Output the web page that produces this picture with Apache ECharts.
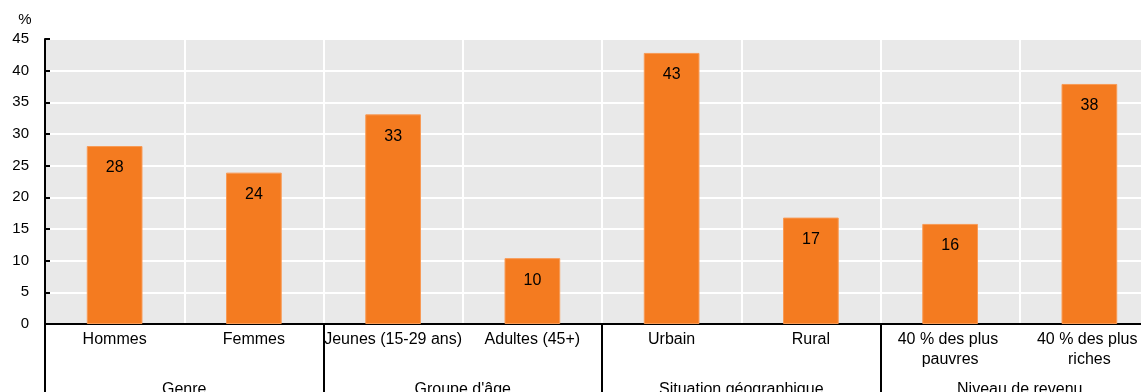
<!DOCTYPE html>
<html>
<head>
<meta charset="utf-8">
<script src="https://cdn.jsdelivr.net/npm/echarts@6/dist/echarts.min.js"></script>
<style>
  html, body { margin: 0; padding: 0; background: #fff; }
  #chart { width: 1141px; height: 392px; }
</style>
</head>
<body>
<div id="chart"></div>
<script>
// catégories, groupes et valeurs (en %)
var categories = ['Hommes', 'Femmes', 'Jeunes (15-29 ans)', 'Adultes (45+)', 'Urbain', 'Rural', '40 % des plus pauvres', '40 % des plus riches'];
var groups = ['Genre', "Groupe d'âge", 'Situation géographique', 'Niveau de revenu'];
var values = [28.1, 23.9, 33.1, 10.4, 42.8, 16.8, 15.8, 37.9];
var yTicks = [0, 5, 10, 15, 20, 25, 30, 35, 40, 45];

var font = "'Liberation Sans', Arial, sans-serif";

var chart = echarts.init(document.getElementById('chart'));
chart.setOption({
	animation: false,
	grid: {
		left: 45,
		top: 39,
		bottom: 68,
		width: 1114,
		outerBoundsMode: 'none',
		containLabel: false,
		show: true,
		backgroundColor: '#e9e9e9',
		borderWidth: 0
	},
	xAxis: [
		{
			type: 'category',
			data: categories,
			axisLine: { lineStyle: { color: '#000', width: 2 } },
			axisTick: { show: false },
			splitLine: { show: true, lineStyle: { color: '#fff', width: 2 } },
			axisLabel: {
				color: '#000',
				fontFamily: font,
				fontSize: 16,
				lineHeight: 20,
				margin: 6,
				interval: 0,
				width: 140,
				overflow: 'break'
			}
		},
		{
			type: 'category',
			data: groups,
			position: 'bottom',
			axisLine: { show: false },
			axisTick: { show: true, length: 72, lineStyle: { color: '#000', width: 2 } },
			axisLabel: {
				color: '#000',
				fontFamily: font,
				fontSize: 16,
				margin: 58,
				interval: 0
			}
		}
	],
	yAxis: {
		type: 'value',
		min: yTicks[0],
		max: yTicks[yTicks.length - 1],
		interval: 5,
		name: '%',
		nameLocation: 'end',
		nameGap: 12,
		nameTextStyle: { color: '#000', fontFamily: font, fontSize: 15, padding: [0, 40, 0, 0] },
		axisLine: { show: true, lineStyle: { color: '#000', width: 2 } },
		axisTick: { show: true, inside: true, length: 5, lineStyle: { color: '#000', width: 2 } },
		splitLine: { lineStyle: { color: '#fff', width: 2 } },
		axisLabel: { color: '#000', fontFamily: font, fontSize: 15, margin: 16 }
	},
	series: [
		{
			type: 'bar',
			data: values,
			barWidth: '40%',
			itemStyle: { color: '#f47b20', borderColor: '#f89a55', borderWidth: 1 },
			label: {
				show: true,
				position: 'insideTop',
				distance: 14,
				color: '#000',
				fontFamily: font,
				fontSize: 16,
				formatter: function(p) { return Math.round(p.value); }
			}
		}
	]
});
</script>
</body>
</html>
